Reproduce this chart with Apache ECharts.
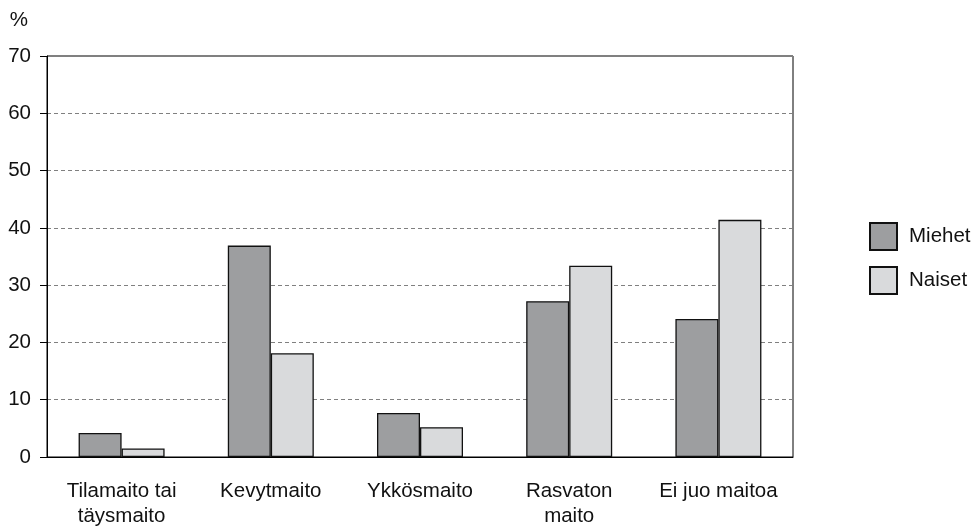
<!DOCTYPE html>
<html>
<head>
<meta charset="utf-8">
<script src="https://cdn.jsdelivr.net/npm/echarts@6/dist/echarts.min.js"></script>
<style>
html,body{margin:0;padding:0;background:#fff;}
#c{width:980px;height:528px;}
</style>
</head>
<body>
<div id="c"></div>
<script>
const categories = ["Tilamaito tai\ntäysmaito", "Kevytmaito", "Ykkösmaito", "Rasvaton\nmaito", "Ei juo maitoa"];
const miehet = [4.2, 36.9, 7.7, 27.2, 24.1];
const naiset = [1.5, 18.1, 5.2, 33.4, 41.4];
const seriesNames = ["Miehet", "Naiset"];
const yTicks = {min: 0, max: 70, interval: 10};

const font = "'Liberation Sans', Arial, sans-serif";
const chart = echarts.init(document.getElementById('c'));
chart.setOption({
  animation: false,
  backgroundColor: '#fff',
  textStyle: {fontFamily: font},
  grid: {left: 47, right: 187, top: 56, bottom: 71, show: true, borderColor: '#000', borderWidth: 1,
         backgroundColor: 'transparent', outerBoundsMode: 'none', containLabel: false},
  legend: {
    orient: 'vertical', left: 864, top: 217,
    icon: 'rect',
    itemWidth: 27, itemHeight: 27, itemGap: 15,
    textStyle: {fontSize: 20.5, color: '#111', fontFamily: font, padding: [0,0,0,7]},
    data: seriesNames
  },
  xAxis: {
    type: 'category', data: categories,
    axisLine: {lineStyle: {color: '#000', width: 1}},
    axisTick: {show: false},
    axisLabel: {fontSize: 20.5, color: '#111', lineHeight: 25, margin: 22, fontFamily: font, interval: 0}
  },
  yAxis: {
    type: 'value', min: yTicks.min, max: yTicks.max, interval: yTicks.interval,
    name: '%', nameLocation: 'end', nameGap: 25,
    nameTextStyle: {fontSize: 20.5, color: '#111', align: 'right', padding: [0, 19, 0, 0], fontFamily: font},
    axisLine: {show: true, lineStyle: {color: '#000', width: 1}},
    axisTick: {show: true, length: 7, lineStyle: {color: '#000'}},
    axisLabel: {fontSize: 20.5, color: '#111', margin: 16, fontFamily: font},
    splitLine: {show: true, lineStyle: {color: '#808080', type: [4, 3], width: 1}}
  },
  series: [
    {name: seriesNames[0], type: 'bar', data: miehet, barWidth: 43, barGap: '0%',
     itemStyle: {color: '#9d9ea0', borderColor: '#111', borderWidth: 1.3}},
    {name: seriesNames[1], type: 'bar', data: naiset, barWidth: 43,
     itemStyle: {color: '#d9dadc', borderColor: '#111', borderWidth: 1.3}}
  ]
});
</script>
</body>
</html>
